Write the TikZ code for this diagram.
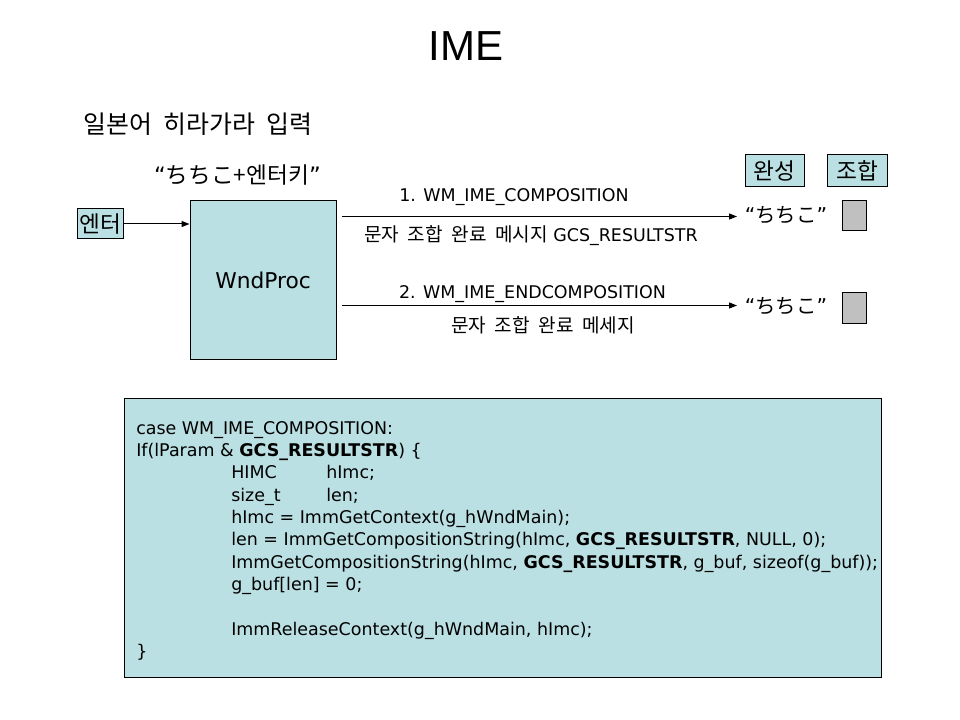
\documentclass[tikz,border=0pt]{standalone}
\usepackage{fontspec}
\setmainfont{DejaVu Sans}
\newfontfamily\titlefont{Liberation Sans}
\newfontfamily\krfont[WordSpace=2.0]{Noto Sans CJK KR}
\newcommand\kr[1]{{\krfont #1}}
\newcommand\krl[1]{{\fontsize{14.3}{16}\krfont #1}}
\usetikzlibrary{arrows.meta}
\definecolor{boxblue}{RGB}{187,224,227}
\definecolor{graybox}{RGB}{192,192,192}
\tikzset{
  bluebox/.style={draw=black, fill=boxblue, line width=0.75pt, inner sep=0pt},
  graysq/.style={draw=black, fill=graybox, line width=0.75pt, inner sep=0pt, minimum width=18pt, minimum height=22.5pt},
  arr/.style={-{Triangle[length=6pt,width=4.5pt]}, line width=0.75pt},
  lbl/.style={anchor=base, inner sep=0pt, font=\fontsize{13.1}{16}\selectfont},
  codeline/.style={anchor=base west, inner sep=0pt, font=\fontsize{13.1}{16}\selectfont},
  plain/.style={anchor=base, inner sep=0pt},
}
\begin{document}
\begin{tikzpicture}[x=0.75pt,y=-0.75pt]
\useasboundingbox (0,0) rectangle (960,720);
% title and heading
\node[plain, font=\fontsize{31.5}{36}\titlefont] (title) at (466,60.5) {IME};
\node[plain, font=\fontsize{18.7}{22}\krfont] (head) at (198,134) {일본어 히라가라 입력};
\node[plain, font=\fontsize{17}{20}\selectfont] (keys) at (237.5,184) {“\kr{ちちこ+엔터키}”};
% boxes
\node[bluebox, minimum width=34.5pt, minimum height=22.5pt, font=\fontsize{17}{20}\krfont] (enter) at (100,224) {엔터};
\node[bluebox, minimum width=109.5pt, minimum height=118.5pt, font=\fontsize{16.3}{20}\selectfont] (wnd) at (263,280) {WndProc};
\node[bluebox, minimum width=44.25pt, minimum height=24pt, font=\fontsize{17}{20}\krfont] (done) at (774.5,171) {완성};
\node[bluebox, minimum width=45pt, minimum height=24pt, font=\fontsize{17}{20}\krfont] (comp) at (857,171) {조합};
\node[graysq] (g1) at (854,216) {};
\node[graysq] (g2) at (854,308) {};
% results
\node[plain, font=\fontsize{15.3}{20}\selectfont] (r1) at (786,223) {“\kr{ちちこ}”};
\node[plain, font=\fontsize{15.3}{20}\selectfont] (r2) at (786,314) {“\kr{ちちこ}”};
% connectors
\draw[arr] (enter.east) -- (enter.east -| wnd.west);
\coordinate (a1s) at (342,216.5);
\coordinate (a1e) at (737,216.5);
\coordinate (a2s) at (342,305.5);
\coordinate (a2e) at (737,305.5);
\draw[arr] (a1s) -- (a1e);
\draw[arr] (a2s) -- (a2e);
% labels
\node[lbl] (l1a) at (514,201.7) {1. WM\_IME\_COMPOSITION};
\node[lbl] (l1b) at (531,241.5) {\krl{문자 조합 완료 메시지} GCS\_RESULTSTR};
\node[lbl] (l2a) at (532.5,298.3) {2. WM\_IME\_ENDCOMPOSITION};
\node[lbl] (l2b) at (543,332.5) {\krl{문자 조합 완료 메세지}};
% code box
\node[bluebox, minimum width=567.75pt, minimum height=209.25pt] (code) at (502.5,537.5) {};
\node[codeline] (c0) at (136,434.3) {case WM\_IME\_COMPOSITION:};
\node[codeline] (c1) at (136,456.6) {If(lParam \& \textbf{GCS\_RESULTSTR}) \{};
\node[codeline] (c2a) at (231,478.9) {HIMC};
\node[codeline] (c2b) at (326,478.9) {hImc;};
\node[codeline] (c3a) at (231,501.2) {size\_t};
\node[codeline] (c3b) at (326,501.2) {len;};
\node[codeline] (c4) at (231,523.5) {hImc = ImmGetContext(g\_hWndMain);};
\node[codeline] (c5) at (231,545.8) {len = ImmGetCompositionString(hImc, \textbf{GCS\_RESULTSTR}, NULL, 0);};
\node[codeline] (c6) at (231,568.1) {ImmGetCompositionString(hImc, \textbf{GCS\_RESULTSTR}, g\_buf, sizeof(g\_buf));};
\node[codeline] (c7) at (231,590.4) {g\_buf[len] = 0;};
\node[codeline] (c9) at (231,635.0) {ImmReleaseContext(g\_hWndMain, hImc);};
\node[codeline] (c10) at (136,657.3) {\}};
\end{tikzpicture}
\end{document}
